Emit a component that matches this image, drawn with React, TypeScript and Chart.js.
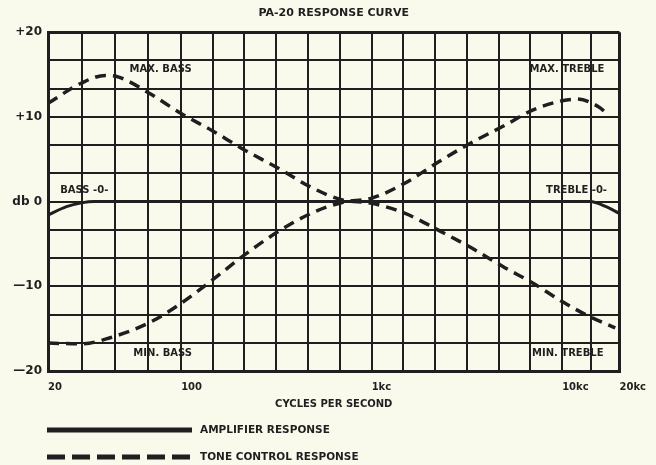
import React, { useEffect, useRef } from 'react';
import { Chart, registerables } from 'chart.js';

Chart.register(...registerables);

// ---- text ----
const chartTitle = 'PA-20 RESPONSE CURVE';
const xAxisTitle = 'CYCLES PER SECOND';

// ---- axes ----
const xGridTicks = [20, 30, 45, 67, 100, 147, 215, 316, 464, 681, 1000, 1468, 2154, 3162, 4642, 6813, 10000, 14142, 20000];
const xLabelValues = [20, 100, 1000, 10000, 20000];
const xLabelTexts = ['20', '100', '1kc', '10kc', '20kc'];

const yGridTicks = [-20, -16.667, -13.333, -10, -6.667, -3.333, 0, 3.333, 6.667, 10, 13.333, 16.667, 20];
const yLabelValues = [20, 10, 0, -10, -20];
const yLabelTexts = ['+20', '+10', 'db 0', '\u201410', '\u201420'];

// ---- series ----
const ampFreq = [20, 25, 30, 35, 1000, 14000, 17000, 20000];
const ampDb = [-1.6, -0.6, -0.15, 0, 0, 0, -0.6, -1.4];

// max bass / min treble
const toneAFreq = [20, 30, 40, 47, 68, 100, 145, 215, 320, 480, 700, 1000, 1500, 2250, 3300, 5000, 7000, 10000, 14000, 19000];
const toneADb = [11.6, 14.0, 14.9, 14.7, 12.8, 10.4, 8.4, 6.1, 4.0, 1.7, 0.2, -0.2, -1.4, -3.4, -5.4, -7.8, -9.6, -11.8, -13.6, -14.9];

// min bass / max treble
const toneBFreq = [20, 30, 42, 68, 100, 145, 215, 320, 480, 700, 1000, 1500, 2250, 3300, 5000, 7000, 10000, 12000, 15500, 17500];
const toneBDb = [-16.7, -16.8, -16.1, -14.3, -12.0, -9.3, -6.3, -3.6, -1.4, -0.1, 0.4, 2.2, 4.7, 6.9, 9.0, 10.8, 11.9, 12.1, 11.2, 10.2];

const seriesLabels = ['AMPLIFIER RESPONSE', 'TONE CONTROL RESPONSE'];

// ---- in-plot annotations ----
const annTexts = ['MAX. BASS', 'BASS -0-', 'MIN. BASS', 'MAX. TREBLE', 'TREBLE -0-', 'MIN. TREBLE'];
const annFreqs = [78, 31, 80, 10600, 11900, 10700];
const annDbs = [15.6, 1.3, -17.9, 15.6, 1.3, -17.9];

const INK = '#1f1f1f';
const BG = '#f9f9ec';
const FONT = '"DejaVu Sans", "Liberation Sans", sans-serif';

const near = (a: number, b: number) => Math.abs(a - b) < 1e-3 * Math.max(1, Math.abs(b));

const bgPlugin = {
  id: 'bg',
  beforeDraw(chart: any) {
    const { ctx, width, height } = chart;
    ctx.save();
    ctx.fillStyle = BG;
    ctx.fillRect(0, 0, width, height);
    ctx.restore();
  },
};

const annotationPlugin = {
  id: 'annotations',
  afterDatasetsDraw(chart: any) {
    const { ctx } = chart;
    const xs = chart.scales.x;
    const ys = chart.scales.y;
    ctx.save();
    ctx.font = `bold 10px ${FONT}`;
    ctx.fillStyle = INK;
    ctx.textAlign = 'center';
    ctx.textBaseline = 'middle';
    annTexts.forEach((t, i) => {
      ctx.fillText(t, xs.getPixelForValue(annFreqs[i]), ys.getPixelForValue(annDbs[i]));
    });
    ctx.restore();
  },
};

const legendPlugin = {
  id: 'customLegend',
  afterDraw(chart: any) {
    const { ctx, chartArea } = chart;
    const ds = chart.data.datasets;
    const x0 = chartArea.left - 1;
    const x1 = chartArea.left + 144;
    const rows = [
      { y: chartArea.bottom + 59, d: ds[0] },
      { y: chartArea.bottom + 86, d: ds[1] },
    ];
    ctx.save();
    rows.forEach((r) => {
      ctx.strokeStyle = INK;
      ctx.lineWidth = 5;
      ctx.setLineDash(r.d.borderDash && r.d.borderDash.length ? [18, 7] : []);
      ctx.beginPath();
      ctx.moveTo(x0, r.y);
      ctx.lineTo(x1, r.y);
      ctx.stroke();
      ctx.setLineDash([]);
      ctx.font = `bold 10.5px ${FONT}`;
      ctx.fillStyle = INK;
      ctx.textAlign = 'left';
      ctx.textBaseline = 'middle';
      ctx.fillText(r.d.label, chartArea.left + 152, r.y);
    });
    ctx.restore();
  },
};

export default function App() {
  const ref = useRef<HTMLCanvasElement | null>(null);

  useEffect(() => {
    document.body.style.margin = '0';
    document.body.style.background = BG;
    const canvas = ref.current;
    if (!canvas) return;

    const pts = (f: number[], v: number[]) => f.map((x, i) => ({ x, y: v[i] }));

    const chart = new Chart(canvas, {
      type: 'line',
      data: {
        datasets: [
          {
            label: seriesLabels[0],
            data: pts(ampFreq, ampDb),
            borderColor: INK,
            borderWidth: 3,
            pointRadius: 0,
            fill: false,
            cubicInterpolationMode: 'monotone',
          },
          {
            label: seriesLabels[1],
            data: pts(toneAFreq, toneADb),
            borderColor: INK,
            borderWidth: 3.5,
            borderDash: [11, 7],
            pointRadius: 0,
            fill: false,
            cubicInterpolationMode: 'monotone',
          },
          {
            label: seriesLabels[1],
            data: pts(toneBFreq, toneBDb),
            borderColor: INK,
            borderWidth: 3.5,
            borderDash: [11, 7],
            pointRadius: 0,
            fill: false,
            cubicInterpolationMode: 'monotone',
          },
        ],
      },
      options: {
        responsive: false,
        animation: false,
        devicePixelRatio: 1,
        layout: { padding: { left: 0, right: 33, top: 0, bottom: 54 } },
        plugins: {
          legend: { display: false },
          tooltip: { enabled: false },
          title: {
            display: true,
            text: chartTitle,
            fullSize: false,
            color: INK,
            font: { family: FONT, weight: 'bold', size: 11 },
            padding: { top: 7, bottom: 12 },
          },
        },
        scales: {
          x: {
            type: 'logarithmic',
            min: 20,
            max: 20000,
            afterBuildTicks: (s: any) => {
              s.ticks = xGridTicks.map((v) => ({ value: v }));
            },
            afterFit: (s: any) => {
              s.height = 40;
            },
            grid: {
              color: INK,
              lineWidth: (c: any) => (c.index === 0 || c.index === xGridTicks.length - 1 ? 3 : 2),
              drawTicks: false,
            },
            border: { display: true, color: INK, width: 3 },
            ticks: {
              autoSkip: false,
              maxRotation: 0,
              minRotation: 0,
              align: 'start',
              padding: 10,
              color: INK,
              font: { family: FONT, weight: 'bold', size: 10 },
              callback: (v: any) => {
                const i = xLabelValues.findIndex((l) => near(Number(v), l));
                return i >= 0 ? xLabelTexts[i] : '';
              },
            },
            title: {
              display: true,
              text: xAxisTitle,
              color: INK,
              font: { family: FONT, weight: 'bold', size: 10 },
              padding: { top: 0, bottom: 1 },
            },
          },
          y: {
            type: 'linear',
            min: -20,
            max: 20,
            afterBuildTicks: (s: any) => {
              s.ticks = yGridTicks.map((v) => ({ value: v }));
            },
            afterFit: (s: any) => {
              s.width = 48;
            },
            grid: {
              color: INK,
              lineWidth: (c: any) => (c.index === 0 || c.index === yGridTicks.length - 1 ? 3 : 2),
              drawTicks: false,
            },
            border: { display: true, color: INK, width: 3 },
            ticks: {
              padding: 6,
              color: INK,
              font: { family: FONT, weight: 'bold', size: 12 },
              callback: (v: any) => {
                const i = yLabelValues.findIndex((l) => Math.abs(Number(v) - l) < 1e-3);
                return i >= 0 ? yLabelTexts[i] : '';
              },
            },
          },
        },
      } as any,
      plugins: [bgPlugin, annotationPlugin, legendPlugin],
    });

    return () => chart.destroy();
  }, []);

  return (
    <div style={{ position: 'fixed', left: 0, top: 0, width: 656, height: 465, background: BG }}>
      <canvas ref={ref} width={656} height={465} style={{ display: 'block' }} />
    </div>
  );
}
